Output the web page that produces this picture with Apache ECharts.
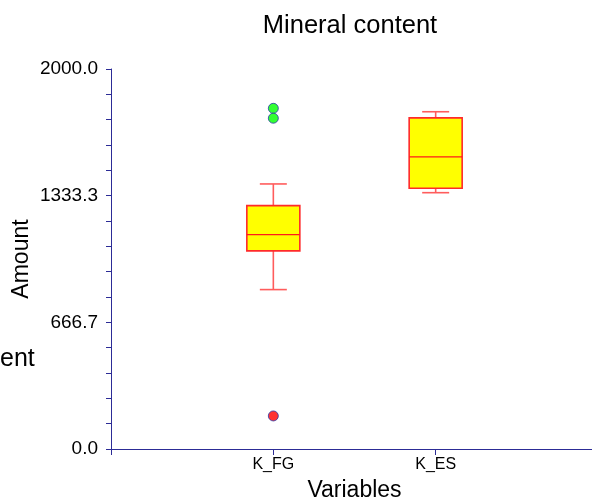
<!DOCTYPE html>
<html>
<head>
<meta charset="utf-8">
<script src="https://cdn.jsdelivr.net/npm/echarts@6/dist/echarts.min.js"></script>
<style>
  html, body { margin: 0; padding: 0; background: #fff; }
  #chart { width: 592px; height: 502px; }
</style>
</head>
<body>
<div id="chart"></div>
<script>
// ---- data ----
var categories = ['K_FG', 'K_ES'];
var whiskerLow  = [839, 1349];
var q1          = [1043, 1372];
var median      = [1128, 1537];
var q3          = [1281, 1743];
var whiskerHigh = [1395, 1775];
// outliers: [category index, value]
var farOutliers  = [[0, 1793], [0, 1741]];
var nearOutliers = [[0, 174]];
var yTicks = [0, 666.7, 1333.3, 2000];

var FONT = '"Liberation Sans", Arial, sans-serif';
var AXIS_COLOR = '#2c2c96';

var boxData = categories.map(function (c, i) {
  return [i + 1, whiskerLow[i], q1[i], median[i], q3[i], whiskerHigh[i]];
});

function renderBox(params, api) {
  var x = api.value(0);
  var lo = api.coord([x, api.value(1)]);
  var b1 = api.coord([x, api.value(2)]);
  var md = api.coord([x, api.value(3)]);
  var b3 = api.coord([x, api.value(4)]);
  var hi = api.coord([x, api.value(5)]);
  var bw = 53, cw = 27;
  var cx = lo[0];
  var wStyle = { stroke: '#ff5c5c', lineWidth: 1.6 };
  return {
    type: 'group',
    children: [
      { type: 'line', shape: { x1: cx, y1: hi[1], x2: cx, y2: b3[1] }, style: wStyle },
      { type: 'line', shape: { x1: cx, y1: b1[1], x2: cx, y2: lo[1] }, style: wStyle },
      { type: 'line', shape: { x1: cx - cw / 2, y1: hi[1], x2: cx + cw / 2, y2: hi[1] }, style: wStyle },
      { type: 'line', shape: { x1: cx - cw / 2, y1: lo[1], x2: cx + cw / 2, y2: lo[1] }, style: wStyle },
      { type: 'rect', shape: { x: cx - bw / 2, y: b3[1], width: bw, height: b1[1] - b3[1] },
        style: { fill: '#ffff00', stroke: '#ff2a2a', lineWidth: 1.6 } },
      { type: 'line', shape: { x1: cx - bw / 2, y1: md[1], x2: cx + bw / 2, y2: md[1] },
        style: { stroke: '#ff1a1a', lineWidth: 1.2 } }
    ]
  };
}

var chart = echarts.init(document.getElementById('chart'), null, { renderer: 'canvas' });
chart.setOption({
  animation: false,
  backgroundColor: '#ffffff',
  title: {
    text: 'Mineral content',
    left: 345,
    textAlign: 'center',
    top: 8,
    textStyle: { fontFamily: FONT, fontSize: 25.5, fontWeight: 'normal', color: '#000' }
  },
  grid: { left: 111, top: 69, width: 487, height: 380, containLabel: false, outerBoundsMode: 'none' },
  xAxis: {
    type: 'value',
    min: 0, max: 3, interval: 1,
    name: 'Variables',
    nameLocation: 'middle',
    nameGap: 30,
    nameTextStyle: { fontFamily: FONT, fontSize: 23, color: '#000' },
    axisLine: { show: true, lineStyle: { color: AXIS_COLOR, width: 1 } },
    axisTick: { show: true, length: 6, lineStyle: { color: AXIS_COLOR } },
    splitLine: { show: false },
    axisLabel: {
      fontFamily: FONT, fontSize: 16, color: '#000', margin: 8,
      showMinLabel: true, showMaxLabel: true,
      formatter: function (v) { return categories[v - 1] || ''; }
    }
  },
  yAxis: {
    type: 'value',
    min: 0, max: 2000, interval: 2000 / 3,
    name: 'Amount',
    nameLocation: 'middle',
    nameGap: 78,
    nameMoveOverlap: false,
    nameRotate: 90,
    nameTextStyle: { fontFamily: FONT, fontSize: 23, color: '#000' },
    axisLine: { show: true, lineStyle: { color: AXIS_COLOR, width: 1 } },
    axisTick: { show: true, length: 5, lineStyle: { color: AXIS_COLOR } },
    minorTick: { show: true, splitNumber: 5, length: 5, lineStyle: { color: AXIS_COLOR, width: 1 } },
    splitLine: { show: false },
    axisLabel: {
      fontFamily: FONT, fontSize: 19, color: '#000', margin: 13,
      formatter: function (v) {
        var best = yTicks[0];
        yTicks.forEach(function (t) { if (Math.abs(t - v) < Math.abs(best - v)) best = t; });
        return best.toFixed(1);
      }
    }
  },
  graphic: [
    {
      type: 'text', left: 0, top: 347,
      style: { text: 'ent', fontFamily: FONT, fontSize: 25, fill: '#000' }
    }
  ],
  series: [
    {
      type: 'custom',
      renderItem: renderBox,
      data: boxData,
      encode: { x: 0, y: [1, 2, 3, 4, 5] },
      z: 2
    },
    {
      type: 'scatter',
      data: farOutliers.map(function (p) { return [p[0] + 1, p[1]]; }),
      symbol: 'circle', symbolSize: 10,
      itemStyle: { color: '#00ff00', borderColor: '#2a3aa8', borderWidth: 1 },
      z: 3
    },
    {
      type: 'scatter',
      data: nearOutliers.map(function (p) { return [p[0] + 1, p[1]]; }),
      symbol: 'circle', symbolSize: 10,
      itemStyle: { color: '#ff0000', borderColor: '#2a3aa8', borderWidth: 1 },
      z: 3
    }
  ]
});
</script>
</body>
</html>
